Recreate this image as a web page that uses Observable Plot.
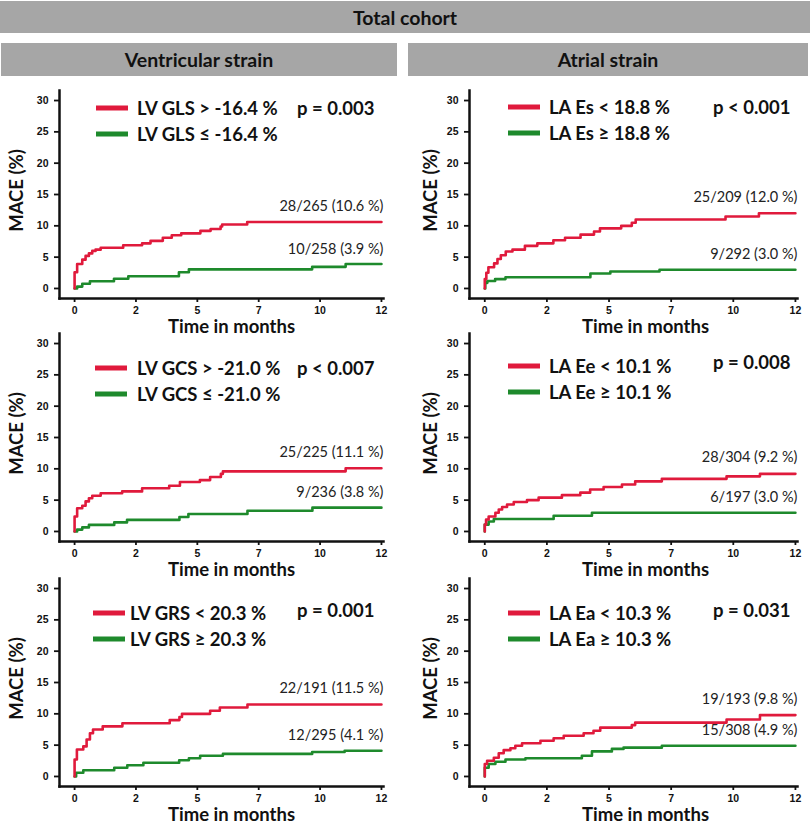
<!DOCTYPE html>
<html><head><meta charset="utf-8">
<script src="https://cdn.jsdelivr.net/npm/d3@7"></script>
<script src="https://cdn.jsdelivr.net/npm/@observablehq/plot@0.6"></script>
<style>
body{margin:0;background:#fff;}
#root{position:relative;width:810px;height:827px;overflow:hidden;font-family:Lato,"Open Sans",sans-serif;color:#111;}
.bar{position:absolute;background:#a6a6a6;color:#111;font-weight:bold;font-size:19.5px;display:flex;align-items:center;justify-content:center;}
.panel{position:absolute;}
.leg{position:absolute;font-weight:bold;font-size:18.5px;white-space:nowrap;line-height:22px;transform:translateY(-11px);}
.pval{position:absolute;font-weight:bold;font-size:18.5px;white-space:nowrap;line-height:22px;transform:translateY(-11px);}
.legline{position:absolute;height:5px;transform:translateY(-2.5px);}
</style></head><body><div id="root"></div>
<script>
// ---- tick labels ----
const xTicks = [0, 2.4, 4.8, 7.2, 9.6, 12];
const xTickLabels = ["0", "2", "5", "7", "10", "12"];
const yTicks = [0, 5, 10, 15, 20, 25, 30];

// ---- Panel: LV GLS ----
const glsHighT = [0, 0, 0.1, 0.3, 0.43, 0.56, 0.69, 0.82, 1.02, 1.9, 2.64, 2.97, 3.45, 3.8, 4.17, 4.92, 5.32, 5.71, 5.77, 6.75, 12];
const glsHighV = [0, 2.6, 3.9, 4.6, 5.2, 5.6, 6.0, 6.2, 6.5, 6.9, 7.2, 7.6, 8.1, 8.5, 8.8, 9.2, 9.5, 9.9, 10.2, 10.6, 10.6];
const glsLowT = [0, 0.1, 0.3, 0.6, 1.54, 2.1, 4.08, 4.47, 9.29, 10.6, 12];
const glsLowV = [0, 0.3, 0.75, 1.15, 1.55, 1.95, 2.6, 3.05, 3.45, 3.9, 3.9];

// ---- Panel: LA Es ----
const esLowT = [0, 0, 0.06, 0.14, 0.36, 0.49, 0.62, 0.81, 1.07, 1.55, 2.03, 2.65, 3.1, 3.7, 4.22, 4.45, 5.27, 5.68, 5.83, 9.3, 10.59, 12];
const esLowV = [0, 1.5, 2.5, 3.4, 4.0, 4.7, 5.3, 5.9, 6.2, 6.8, 7.2, 7.7, 8.1, 8.6, 9.1, 9.6, 10.0, 10.5, 11.0, 11.5, 12.0, 12.0];
const esHighT = [0, 0.02, 0.1, 0.4, 0.8, 4.08, 4.85, 6.75, 12];
const esHighV = [0, 0.9, 1.2, 1.5, 1.8, 2.4, 2.7, 3.0, 3.0];

// ---- Panel: LV GCS ----
const gcsHighT = [0, 0, 0.1, 0.3, 0.43, 0.56, 0.69, 1.02, 1.86, 2.64, 3.7, 4.12, 4.9, 5.3, 5.72, 5.8, 10.6, 12];
const gcsHighV = [0, 2.4, 3.7, 4.1, 4.8, 5.3, 5.7, 6.1, 6.4, 6.9, 7.3, 7.9, 8.2, 8.7, 9.2, 9.6, 10.1, 10.1];
const gcsLowT = [0, 0.1, 0.3, 0.56, 1.55, 2.05, 4.1, 4.45, 6.76, 9.3, 12];
const gcsLowV = [0, 0.3, 0.65, 1.05, 1.45, 1.85, 2.3, 2.8, 3.3, 3.8, 3.8];

// ---- Panel: LA Ee ----
const eeLowT = [0, 0, 0.05, 0.15, 0.41, 0.54, 0.67, 0.86, 1.12, 1.63, 2.08, 2.98, 3.69, 4.07, 4.59, 5.3, 5.81, 6.84, 9.34, 10.63, 12];
const eeLowV = [0, 1.1, 1.9, 2.4, 3.0, 3.5, 3.9, 4.3, 4.7, 5.0, 5.4, 5.8, 6.2, 6.7, 7.1, 7.5, 8.0, 8.4, 8.8, 9.2, 9.2];
const eeHighT = [0, 0, 0.15, 0.35, 2.66, 4.14, 12];
const eeHighV = [0, 1.1, 1.6, 2.0, 2.5, 3.0, 3.0];

// ---- Panel: LV GRS ----
const grsLowT = [0, 0, 0.09, 0.34, 0.47, 0.6, 0.72, 1.1, 1.87, 3.72, 4.1, 4.2, 5.3, 5.68, 6.76, 12];
const grsLowV = [0, 2.7, 4.3, 4.8, 5.9, 6.9, 7.5, 8.0, 8.5, 9.0, 9.5, 10.0, 10.5, 11.0, 11.5, 11.5];
const grsHighT = [0, 0.06, 0.34, 1.55, 2.06, 2.69, 4.09, 4.47, 4.91, 5.8, 9.29, 10.56, 12];
const grsHighV = [0, 0.6, 1.0, 1.4, 1.8, 2.2, 2.6, 2.9, 3.3, 3.6, 3.9, 4.1, 4.1];

// ---- Panel: LA Ea ----
const eaLowT = [0, 0, 0.09, 0.35, 0.54, 0.73, 0.99, 1.18, 1.44, 2.15, 2.66, 3.05, 3.82, 4.2, 4.46, 5.68, 5.81, 9.34, 10.63, 12];
const eaLowV = [0, 2.0, 2.5, 3.0, 3.7, 4.2, 4.5, 4.9, 5.3, 5.7, 6.1, 6.5, 6.9, 7.3, 7.8, 8.2, 8.6, 9.1, 9.8, 9.8];
const eaHighT = [0, 0, 0.15, 0.41, 0.8, 1.57, 3.75, 4.14, 4.91, 5.36, 6.84, 12];
const eaHighV = [0, 1.4, 2.0, 2.35, 2.7, 2.9, 3.3, 4.0, 4.4, 4.6, 4.9, 4.9];

// ---- texts ----
const headerTitle = "Total cohort";
const columnTitles = ["Ventricular strain", "Atrial strain"];
const redLabels = ["LV GLS > -16.4 %", "LA Es < 18.8 %", "LV GCS > -21.0 %", "LA Ee < 10.1 %", "LV GRS < 20.3 %", "LA Ea < 10.3 %"];
const greenLabels = ["LV GLS ≤ -16.4 %", "LA Es ≥ 18.8 %", "LV GCS ≤ -21.0 %", "LA Ee ≥ 10.1 %", "LV GRS ≥ 20.3 %", "LA Ea ≥ 10.3 %"];
const pValues = ["p = 0.003", "p < 0.001", "p < 0.007", "p = 0.008", "p = 0.001", "p = 0.031"];
const redCounts = ["28/265 (10.6 %)", "25/209 (12.0 %)", "25/225 (11.1 %)", "28/304 (9.2 %)", "22/191 (11.5 %)", "19/193 (9.8 %)"];
const greenCounts = ["10/258 (3.9 %)", "9/292 (3.0 %)", "9/236 (3.8 %)", "6/197 (3.0 %)", "12/295 (4.1 %)", "15/308 (4.9 %)"];

const redSeries = [[glsHighT, glsHighV], [esLowT, esLowV], [gcsHighT, gcsHighV], [eeLowT, eeLowV], [grsLowT, grsLowV], [eaLowT, eaLowV]];
const greenSeries = [[glsLowT, glsLowV], [esHighT, esHighV], [gcsLowT, gcsLowV], [eeHighT, eeHighV], [grsHighT, grsHighV], [eaHighT, eaHighV]];

const RED = "#e01a3c", GREEN = "#1e8a2c";
const root = document.getElementById("root");

function div(cls, css, text) {
  const d = document.createElement("div");
  d.className = cls;
  Object.assign(d.style, css);
  if (text != null) d.textContent = text;
  root.appendChild(d);
  return d;
}

div("bar", {left: "0px", top: "1px", width: "810px", height: "32px"}, headerTitle);
div("bar", {left: "1px", top: "43px", width: "396px", height: "33px"}, columnTitles[0]);
div("bar", {left: "408px", top: "43px", width: "400px", height: "33px"}, columnTitles[1]);

const rowTops = [80, 323, 568];
const colLeft = [0, 405];
const colMarginLeft = [59, 64];
const colMarginRight = [22, 13];
const colYLabelDx = [-42, -38];
const colXLabelDx = [10, 12];
// legend layout (relative to panel): [lineX, textX, pX, y1, y2, pY]
const legendLayout = [
  [96, 137, 297, 28, 54, 28],
  [103, 144, 308, 27, 53, 27],
  [95, 137, 297, 45, 71, 45],
  [103, 144, 308, 43, 69, 39],
  [93, 130, 297, 45, 71, 42],
  [103, 144, 308, 45, 71, 42]
];

function toRows(T, V) { return T.map((t, i) => ({t, v: V[i]})); }

for (let k = 0; k < 6; k++) {
  const col = k % 2, row = Math.floor(k / 2);
  const left = colLeft[col], top = rowTops[row];
  const red = toRows(...redSeries[k]);
  const green = toRows(...greenSeries[k]);
  const redEnd = [{...red[red.length - 1], label: redCounts[k]}];
  const greenEnd = [{...green[green.length - 1], label: greenCounts[k]}];

  const chart = Plot.plot({
    width: 405, height: 258,
    marginLeft: colMarginLeft[col], marginRight: colMarginRight[col],
    marginTop: 10, marginBottom: 40,
    style: {fontFamily: "Lato, sans-serif", background: "transparent", overflow: "visible"},
    x: {domain: [-0.59, 12.08]},
    y: {domain: [-1.6, 31.6]},
    marks: [
      Plot.frame({anchor: "left", stroke: "#111", strokeWidth: 2.5}),
      Plot.frame({anchor: "bottom", stroke: "#111", strokeWidth: 2.5}),
      Plot.axisY({ticks: yTicks, tickSize: 5, tickPadding: 6, label: null, fontWeight: "bold", fontSize: 10.5, fontFamily: "Liberation Sans, Arial", strokeWidth: 1.8, stroke: "#111"}),
      Plot.axisX({ticks: xTicks, tickFormat: d => xTickLabels[xTicks.indexOf(d)], tickSize: 4, tickPadding: 4, label: null, fontWeight: "bold", fontSize: 10.5, fontFamily: "Liberation Sans, Arial", strokeWidth: 1.8, stroke: "#111"}),
      Plot.line(green, {x: "t", y: "v", curve: "step-after", stroke: GREEN, strokeWidth: 2.6}),
      Plot.line(red, {x: "t", y: "v", curve: "step-after", stroke: RED, strokeWidth: 2.6}),
      Plot.text(redEnd, {x: "t", y: "v", text: "label", textAnchor: "end", dx: 2, dy: -16, fontSize: 14.5, fill: "#222"}),
      Plot.text(greenEnd, {x: "t", y: "v", text: "label", textAnchor: "end", dx: 2, dy: -15, fontSize: 14.5, fill: "#222"}),
      Plot.text(["MACE (%)"], {frameAnchor: "left", textAnchor: "middle", lineAnchor: "middle", rotate: -90, dx: colYLabelDx[col], dy: -4, fontSize: 18.5, fontWeight: "bold", fill: "#111"}),
      Plot.text(["Time in months"], {frameAnchor: "bottom", lineAnchor: "middle", dx: colXLabelDx[col], dy: 29, fontSize: 18.5, fontWeight: "bold", fill: "#111"})
    ]
  });
  const p = div("panel", {left: left + "px", top: top + "px"});
  p.appendChild(chart);

  const [lx, tx, px, y1, y2, py] = legendLayout[k];
  div("legline", {left: (left + lx) + "px", top: (top + y1) + "px", width: "32px", background: RED});
  div("legline", {left: (left + lx) + "px", top: (top + y2) + "px", width: "32px", background: GREEN});
  div("leg", {left: (left + tx) + "px", top: (top + y1) + "px"}, redLabels[k]);
  div("leg", {left: (left + tx) + "px", top: (top + y2) + "px"}, greenLabels[k]);
  div("pval", {left: (left + px) + "px", top: (top + py) + "px"}, pValues[k]);
}
</script></body></html>
